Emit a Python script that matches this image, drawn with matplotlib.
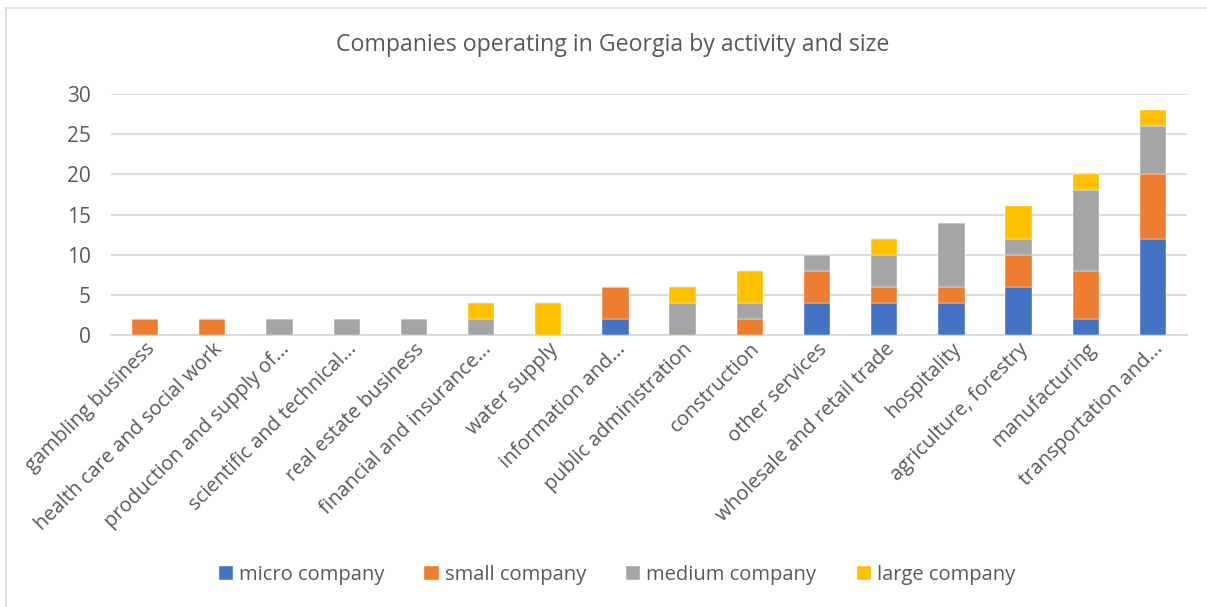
import numpy as np
import matplotlib
matplotlib.use('Agg')
import matplotlib.pyplot as plt
from matplotlib.patches import Rectangle

activities = [
    "gambling business", "health care and social work", "production and supply of...",
    "scientific and technical...", "real estate business", "financial and insurance...",
    "water supply", "information and...", "public administration", "construction",
    "other services", "wholesale and retail trade", "hospitality",
    "agriculture, forestry", "manufacturing", "transportation and...",
]
micro = [0, 0, 0, 0, 0, 0, 0, 2, 0, 0, 4, 4, 4, 6, 2, 12]
small = [2, 2, 0, 0, 0, 0, 0, 4, 0, 2, 4, 2, 2, 4, 6, 8]
medium = [0, 0, 2, 2, 2, 2, 0, 0, 4, 2, 2, 4, 8, 2, 10, 6]
large = [0, 0, 0, 0, 0, 2, 4, 0, 2, 4, 0, 2, 0, 4, 2, 2]

series = [
    ("micro company", micro, "#4472C4"),
    ("small company", small, "#ED7D31"),
    ("medium company", medium, "#A5A5A5"),
    ("large company", large, "#FFC000"),
]

plt.rcParams['font.family'] = ['Open Sans', 'DejaVu Sans']
text_color = '#595959'

fig = plt.figure(figsize=(12.07, 6.07), dpi=100)
# chart frame (left and top edges fall inside the canvas)
fig.patches.append(Rectangle((6 / 1207, -0.1), 1.2, 1 - 8 / 607 + 0.1,
                             transform=fig.transFigure, fill=False,
                             edgecolor='#D9D9D9', linewidth=1.2))

ax = fig.add_axes([0.0923, 0.4481, 0.8908, 0.397])
x = np.arange(len(activities))
bottom = np.zeros(len(activities))
for name, vals, color in series:
    vals = np.array(vals, dtype=float)
    ax.bar(x, vals, width=0.39, bottom=bottom, color=color, label=name,
           edgecolor='white', linewidth=0.3, zorder=3)
    bottom += vals

ax.set_xlim(-0.5, len(activities) - 0.5)
ax.set_ylim(0, 30)
ax.set_yticks(range(0, 31, 5))
ax.yaxis.grid(True, color='#D9D9D9', linewidth=1.3, zorder=0)
for side in ['top', 'right', 'left']:
    ax.spines[side].set_visible(False)
ax.spines['bottom'].set_color('#D9D9D9')
ax.spines['bottom'].set_linewidth(1.3)
ax.tick_params(axis='both', length=0, colors=text_color)
ax.tick_params(axis='y', pad=15, labelsize=15)
ax.set_xticks(x)
ax.set_xticklabels(activities, rotation=45, ha='right', rotation_mode='anchor',
                   fontsize=14.5, color=text_color)
ax.tick_params(axis='x', pad=3)

fig.text(0.508, 1 - 45 / 607, "Companies operating in Georgia by activity and size",
         ha='center', va='center', fontsize=16.7, color=text_color)

fig.legend(loc='center', bbox_to_anchor=(0.511, 1 - 575 / 607), ncol=4,
           frameon=False, fontsize=14.5, labelcolor=text_color,
           handlelength=0.7, handleheight=0.7, handletextpad=0.3, columnspacing=2.0)

plt.savefig('out.png', dpi=100)
